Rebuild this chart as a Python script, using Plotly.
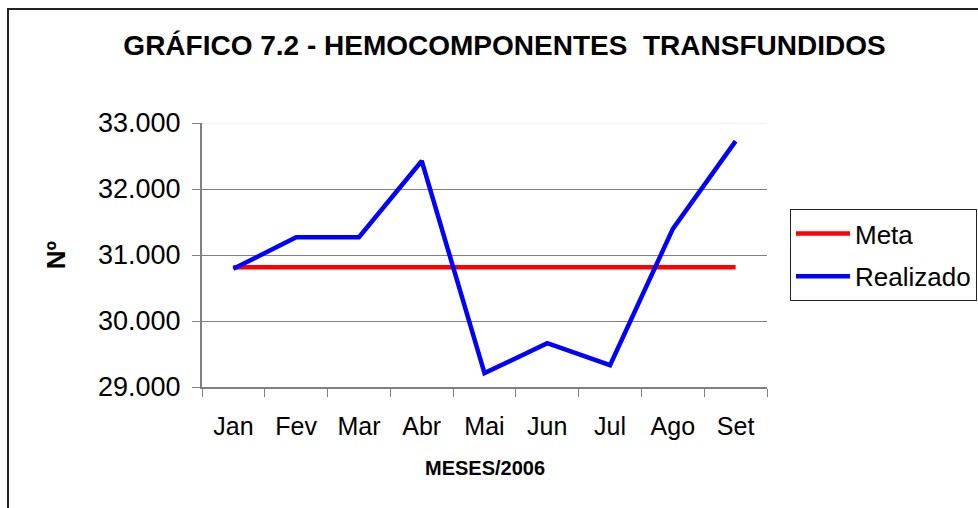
import plotly.graph_objects as go

months = ["Jan", "Fev", "Mar", "Abr", "Mai", "Jun", "Jul", "Ago", "Set"]
meta = [30815, 30815, 30815, 30815, 30815, 30815, 30815, 30815, 30815]
realizado = [30790, 31270, 31270, 32425, 29210, 29665, 29330, 31395, 32725]
y_ticks = [29000, 30000, 31000, 32000, 33000]

title_text = "GRÁFICO 7.2 - HEMOCOMPONENTES  TRANSFUNDIDOS"
x_title = "MESES/2006"
y_title = "Nº"

FONT = "Liberation Sans, Arial, sans-serif"

fig = go.Figure()
fig.add_trace(go.Scatter(x=months, y=meta, mode="lines", name="Meta",
                         line=dict(color="#ff0000", width=4.5), legendgroup="a"))
fig.add_trace(go.Scatter(x=months, y=realizado, mode="lines", name="Realizado",
                         line=dict(color="#0000ff", width=4.5), legendgroup="b"))

W, H = 978, 508
L, R, T, B = 202, 211, 123, 121
pw = W - L - R
ph = H - T - B

# light top gridline (as in reference)
fig.add_shape(type="line", xref="paper", yref="y", x0=0, x1=1,
              y0=max(y_ticks), y1=max(y_ticks),
              line=dict(color="#e6e6e6", width=1), layer="below")

# outer chart border
fig.add_shape(type="rect", xref="paper", yref="paper",
              x0=(8 - L) / pw, x1=(W + 20 - L) / pw,
              y0=-(H + 20 - T - ph) / ph, y1=(H - B - 9) / ph,
              line=dict(color="#222222", width=2), layer="below")

# x axis title
fig.add_annotation(text="<b>" + x_title + "</b>", xref="paper", yref="paper",
                   x=0.5, y=-(468 - (H - B)) / ph,
                   xanchor="center", yanchor="middle", showarrow=False,
                   font=dict(size=20, family=FONT, color="black"))

fig.update_layout(
    width=W, height=H,
    margin=dict(l=L, r=R, t=T, b=B, autoexpand=False),
    paper_bgcolor="white", plot_bgcolor="white",
    separators=",.",
    font=dict(family=FONT, color="black"),
    title=dict(text="<b>" + title_text + "</b>", x=(125 + 884) / 2 / W, xanchor="center",
               y=1 - 45 / H, yanchor="middle",
               font=dict(size=28, family=FONT, color="black")),
    showlegend=True,
    legend=dict(x=(790 - L) / pw, xanchor="left", y=(H - B - 209) / ph, yanchor="top",
                bordercolor="#222222", borderwidth=1, bgcolor="white",
                font=dict(size=26, family=FONT, color="black"),
                itemwidth=54, tracegroupgap=6),
    xaxis=dict(type="category", range=[-0.5, len(months) - 0.5],
               showgrid=False, showline=True, linecolor="#808080",
               linewidth=2, ticks="outside", ticklen=8, tickcolor="#808080",
               tickson="boundaries", tickfont=dict(size=25, family=FONT, color="black"),
               ticklabelstandoff=16),
    yaxis=dict(range=[min(y_ticks), max(y_ticks)], tickvals=y_ticks, tickformat=",d",
               showgrid=True, gridcolor="#808080", gridwidth=1,
               showline=True, linecolor="#808080", linewidth=2, zeroline=False,
               ticks="outside", ticklen=8, tickcolor="#808080",
               tickfont=dict(size=27, family=FONT, color="black"),
               ticklabelstandoff=6,
               title=dict(text="<b>" + y_title + "</b>", standoff=25,
                          font=dict(size=26, family=FONT, color="black"))),
)

fig.write_html("out.html", config={"displayModeBar": False},
               post_script="document.body.style.margin='0';")
